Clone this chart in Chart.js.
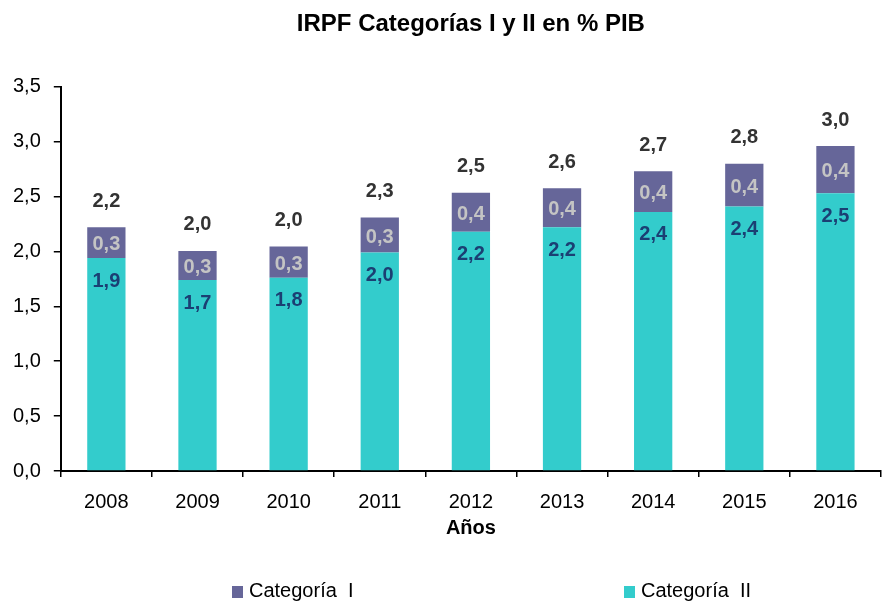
<!DOCTYPE html>
<html>
<head>
<meta charset="utf-8">
<script src="https://cdn.jsdelivr.net/npm/chart.js@4/dist/chart.umd.min.js"></script>
<style>
	html, body { margin: 0; padding: 0; background: #fff; }
	#wrap { position: relative; width: 891px; height: 601px; }
	#legend { position: absolute; left: 0; top: 578px; width: 891px; height: 24px;
		font-family: "Liberation Sans", Arial, sans-serif; font-size: 20px; color: #000; }
	.item { position: absolute; top: 0; line-height: 24px; white-space: nowrap; }
	.box { display: inline-block; width: 11px; height: 12px; margin-right: 6px; vertical-align: -1px; }
</style>
</head>
<body>
<div id="wrap">
	<canvas id="irpf" width="891" height="601"></canvas>
	<div id="legend">
		<div class="item" style="left:232px"><span class="box" style="background:#666699"></span>Categoría&nbsp; I</div>
		<div class="item" style="left:624px"><span class="box" style="background:#33CCCC"></span>Categoría&nbsp; II</div>
	</div>
</div>
<script>
// datos
const years = ["2008", "2009", "2010", "2011", "2012", "2013", "2014", "2015", "2016"];
const categoriaII = [1.94, 1.74, 1.76, 1.99, 2.18, 2.22, 2.36, 2.41, 2.53];
const categoriaI = [0.28, 0.265, 0.285, 0.32, 0.355, 0.355, 0.37, 0.39, 0.43];
const yTicks = [0, 0.5, 1.0, 1.5, 2.0, 2.5, 3.0, 3.5];

const totals = categoriaII.map(function (v, i) { return v + categoriaI[i]; });

function fmt(v) {
	return v.toFixed(1).replace(".", ",");
}

const FONT = "'Liberation Sans', Arial, sans-serif";

// etiquetas dentro y encima de las barras
const barLabels = {
	id: "barLabels",
	afterDatasetsDraw: function (chart) {
		const ctx = chart.ctx;
		const metaII = chart.getDatasetMeta(0);
		const metaI = chart.getDatasetMeta(1);
		ctx.save();
		ctx.font = "bold 20px " + FONT;
		ctx.textAlign = "center";
		ctx.textBaseline = "middle";
		metaII.data.forEach(function (el, i) {
			ctx.fillStyle = "#1B3F73";
			ctx.fillText(fmt(categoriaII[i]), el.x, el.y + 23);
		});
		metaI.data.forEach(function (el, i) {
			ctx.fillStyle = "#C4C4C4";
			ctx.fillText(fmt(categoriaI[i]), el.x, (el.y + el.base) / 2 + 2);
			ctx.fillStyle = "#333333";
			ctx.fillText(fmt(totals[i]), el.x, el.y - 26);
		});
		ctx.restore();
	}
};

const ctx = document.getElementById("irpf").getContext("2d");

new Chart(ctx, {
	type: "bar",
	data: {
		labels: years,
		datasets: [{
			label: "Categoría II",
			data: categoriaII,
			backgroundColor: "#33CCCC",
			barPercentage: 0.42,
			categoryPercentage: 1,
		}, {
			label: "Categoría I",
			data: categoriaI,
			backgroundColor: "#666699",
			barPercentage: 0.42,
			categoryPercentage: 1,
		}],
	},
	options: {
		responsive: false,
		animation: false,
		layout: {
			padding: { left: 0, right: 10, top: 0, bottom: 61 },
		},
		plugins: {
			legend: { display: false },
			tooltip: { enabled: false },
			title: {
				display: true,
				text: "IRPF Categorías I y II en % PIB",
				fullSize: false,
				color: "#000",
				font: { family: FONT, size: 24, weight: "bold" },
				padding: { top: 10, bottom: 48 },
			},
		},
		scales: {
			x: {
				stacked: true,
				grid: {
					display: true,
					drawOnChartArea: false,
					drawTicks: true,
					tickLength: 6,
					color: "#000",
					lineWidth: 1.5,
				},
				border: { display: true, color: "#000", width: 2 },
				ticks: {
					color: "#000",
					padding: 13,
					font: { family: FONT, size: 20 },
				},
				title: {
					display: true,
					text: "Años",
					color: "#000",
					font: { family: FONT, size: 20, weight: "bold" },
					padding: { top: -11, bottom: 0 },
				},
			},
			y: {
				stacked: true,
				min: 0,
				max: 3.5,
				afterBuildTicks: function (scale) {
					scale.ticks = yTicks.map(function (v) { return { value: v }; });
				},
				grid: {
					display: true,
					drawOnChartArea: false,
					drawTicks: true,
					tickLength: 7,
					color: "#000",
					lineWidth: 1.5,
				},
				border: { display: true, color: "#000", width: 2 },
				ticks: {
					color: "#000",
					padding: 13,
					font: { family: FONT, size: 20 },
					callback: function (value) {
						return fmt(value);
					},
				},
			},
		},
	},
	plugins: [barLabels],
});
</script>
</body>
</html>
